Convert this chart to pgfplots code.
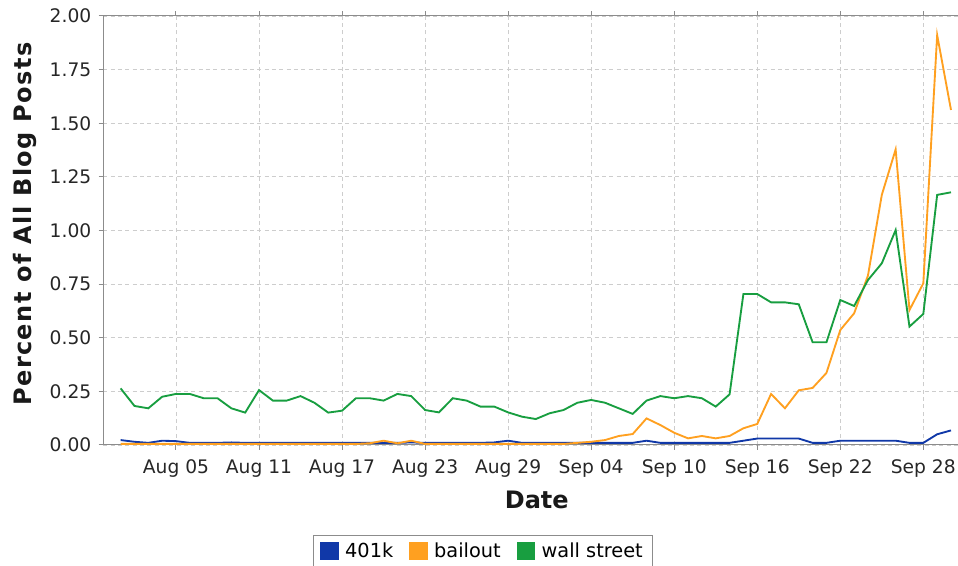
\documentclass[border=0pt]{standalone}
\usepackage{fontspec}
\setmainfont{DejaVu Sans}
\newfontfamily\ylabfont[LetterSpace=6]{DejaVu Sans}
\usepackage{pgfplots}
\usepackage{pgfplotstable}
\pgfplotsset{compat=1.18}
\definecolor{cblue}{RGB}{16,56,168}
\definecolor{corange}{RGB}{255,160,32}
\definecolor{cgreen}{RGB}{24,158,64}
\definecolor{axgray}{RGB}{140,140,140}
\definecolor{gridgray}{RGB}{205,205,205}
\pgfplotstableread{
d k401 bailout wall
1 0.023 0.005 0.264
2 0.015 0.005 0.182
3 0.010 0.005 0.171
4 0.020 0.005 0.225
5 0.018 0.005 0.238
6 0.010 0.005 0.238
7 0.010 0.005 0.218
8 0.010 0.005 0.218
9 0.012 0.005 0.171
10 0.010 0.005 0.151
11 0.010 0.005 0.256
12 0.010 0.005 0.207
13 0.010 0.005 0.207
14 0.010 0.005 0.228
15 0.010 0.005 0.197
16 0.010 0.005 0.151
17 0.010 0.005 0.160
18 0.010 0.005 0.218
19 0.010 0.008 0.218
20 0.010 0.020 0.207
21 0.010 0.008 0.238
22 0.012 0.020 0.228
23 0.010 0.005 0.163
24 0.010 0.005 0.152
25 0.010 0.005 0.218
26 0.010 0.005 0.207
27 0.010 0.005 0.179
28 0.012 0.005 0.179
29 0.020 0.005 0.152
30 0.010 0.005 0.132
31 0.010 0.005 0.121
32 0.010 0.005 0.148
33 0.010 0.005 0.163
34 0.010 0.010 0.197
35 0.010 0.015 0.210
36 0.010 0.023 0.197
37 0.010 0.042 0.171
38 0.010 0.051 0.145
39 0.020 0.124 0.207
40 0.010 0.093 0.228
41 0.010 0.057 0.218
42 0.010 0.031 0.228
43 0.010 0.042 0.218
44 0.010 0.031 0.179
45 0.010 0.042 0.236
46 0.020 0.078 0.704
47 0.030 0.098 0.704
48 0.030 0.238 0.665
49 0.030 0.171 0.665
50 0.030 0.255 0.656
51 0.010 0.266 0.479
52 0.010 0.336 0.479
53 0.020 0.536 0.676
54 0.020 0.614 0.648
55 0.020 0.790 0.769
56 0.020 1.166 0.847
57 0.020 1.378 1.002
58 0.010 0.629 0.552
59 0.010 0.754 0.611
60 0.050 1.911 1.166
61 0.068 1.562 1.178
}\data
\begin{document}
\begin{tikzpicture}
\begin{axis}[
  at={(77.5pt,-333.75pt)}, anchor=south west,
  scale only axis, width=642.5pt, height=321.75pt,
  xmin=-0.25, xmax=61.65, ymin=0, ymax=2,
  xtick={5,11,17,23,29,35,41,47,53,59},
  xticklabels={Aug 05,Aug 11,Aug 17,Aug 23,Aug 29,Sep 04,Sep 10,Sep 16,Sep 22,Sep 28},
  ytick={0,0.25,0.5,0.75,1,1.25,1.5,1.75,2},
  yticklabels={0.00,0.25,0.50,0.75,1.00,1.25,1.50,1.75,2.00},
  tick align=outside, major tick length=3.5pt,
  tick style={axgray, line width=0.75pt},
  axis line style={axgray, line width=0.75pt},
  grid=major,
  major grid style={gridgray, dash pattern=on 3pt off 2.5pt, line width=0.6pt},
  ticklabel style={font=\fontsize{14}{16}\selectfont, text=black!85},
  xticklabel style={yshift=-4pt},
  yticklabel style={xshift=-2pt},
  xlabel={Date}, ylabel={\ylabfont\bfseries Percent of All Blog Posts},
  every axis x label/.style={at={(axis description cs:0.506,-0.128)}, anchor=center,
    font=\bfseries\fontsize{18}{20}\selectfont, text=black!90},
  every axis y label/.style={at={(axis description cs:-0.0914,0.515)}, rotate=90, anchor=center,
    font=\bfseries\fontsize{18}{20}\selectfont, text=black!90},
  legend columns=3,
  legend style={at={(0.443,-0.2098)}, anchor=north, draw=axgray, line width=0.75pt,
    font=\fontsize{14.5}{16}\selectfont, inner xsep=5pt, inner ysep=3.5pt,
    /tikz/every even column/.append style={column sep=10pt}},
  legend image code/.code={\fill[#1] (0pt,-6pt) rectangle (12.5pt,6pt); \path[draw=none,fill=none] (12.5pt,0pt) -- (16pt,0pt);},
]
\addplot[color=cblue, line width=1.4pt] table[x=d, y=k401] {\data};
\addlegendentry{401k}
\addplot[color=corange, line width=1.4pt] table[x=d, y=bailout] {\data};
\addlegendentry{bailout}
\addplot[color=cgreen, line width=1.4pt] table[x=d, y=wall] {\data};
\addlegendentry{wall street}
\end{axis}
\pgfresetboundingbox
\path[use as bounding box] (0,0) rectangle (718.5pt,-424.5pt);
\end{tikzpicture}
\end{document}
